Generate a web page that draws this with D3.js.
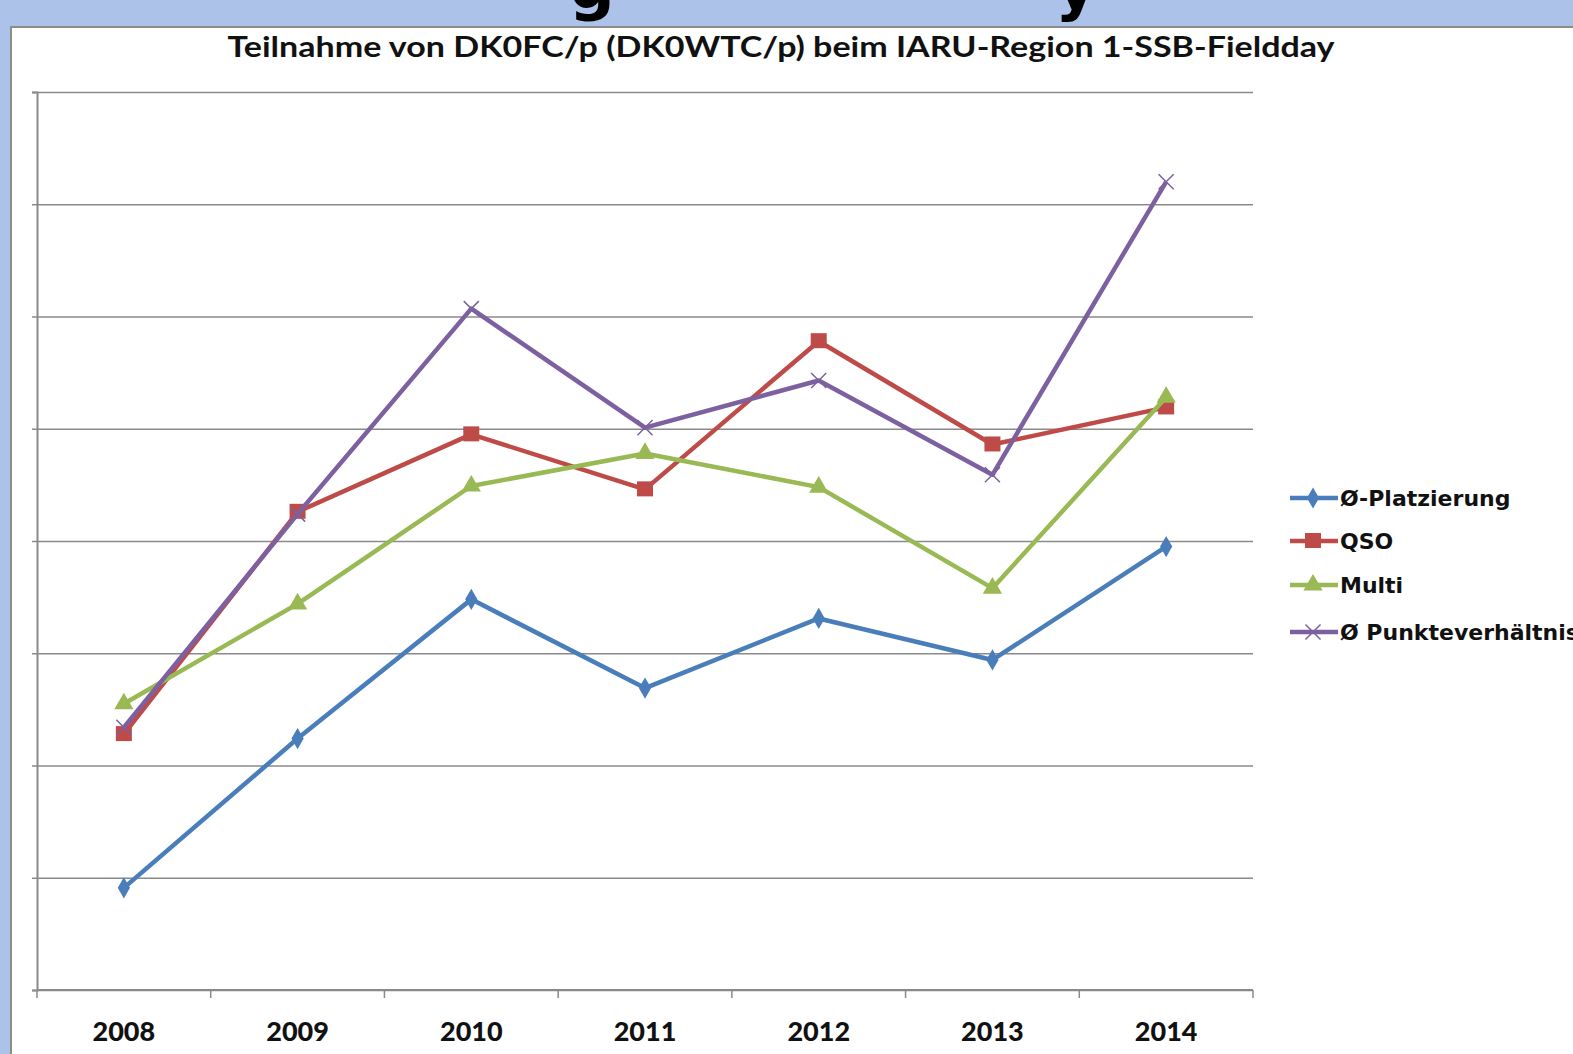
<!DOCTYPE html>
<meta charset="utf-8">
<script src="https://d3js.org/d3.v7.min.js"></script>
<style>
  body { margin: 0; background: #fff; }
</style>
<div id="chart"></div>
<script>
// data (units = grid steps, axis has no labels)
var years = ["2008", "2009", "2010", "2011", "2012", "2013", "2014"];
var platzierung = [0.91, 2.24, 3.48, 2.69, 3.31, 2.94, 3.95];
var qso = [2.28, 4.26, 4.95, 4.46, 5.78, 4.86, 5.19];
var multi = [2.55, 3.44, 4.49, 4.78, 4.48, 3.58, 5.28];
var punkte = [2.34, 4.24, 6.07, 5.01, 5.43, 4.59, 7.20];
var seriesNames = ["Ø-Platzierung", "QSO", "Multi", "Ø Punkteverhältnis"];
var gridTicks = [0, 1, 2, 3, 4, 5, 6, 7, 8];

(function() {
var W = 1573, H = 1054;
var series = [
  {name: seriesNames[0], values: platzierung, color: "#4a7ebb", shape: "diamond"},
  {name: seriesNames[1], values: qso, color: "#be4b48", shape: "square"},
  {name: seriesNames[2], values: multi, color: "#98b954", shape: "triangle"},
  {name: seriesNames[3], values: punkte, color: "#7d60a0", shape: "cross"}
];

var svg = d3.select("#chart").append("svg")
  .attr("width", W).attr("height", H);

// slide background (blue band top/left)
svg.append("rect").attr("width", W).attr("height", H).attr("fill", "#adc2e9");
svg.append("clipPath").attr("id", "band")
  .append("rect").attr("width", W).attr("height", 27);
var band = svg.append("g").attr("clip-path", "url(#band)");
band.append("text").attr("x", 592).attr("y", 8)
  .attr("text-anchor", "middle")
  .style("font", "bold 64px 'DejaVu Sans'").text("g");
band.append("text").attr("x", 1076).attr("y", 8)
  .attr("text-anchor", "middle")
  .style("font", "bold 64px 'DejaVu Sans'").text("y");

// white chart panel
svg.append("rect").attr("x", 11).attr("y", 27).attr("width", W).attr("height", H)
  .attr("fill", "#fff").attr("stroke", "#8c8c8c").attr("stroke-width", 2);

svg.append("text")
  .attr("x", 781).attr("y", 57)
  .attr("text-anchor", "middle")
  .attr("textLength", 1107).attr("lengthAdjust", "spacingAndGlyphs")
  .style("font", "bold 28px Lato")
  .attr("fill", "#111")
  .text("Teilnahme von DK0FC/p (DK0WTC/p) beim IARU-Region 1-SSB-Fieldday");

var pLeft = 37, pRight = 1253, pTop = 92, pBottom = 990;

var x = d3.scaleBand().domain(years).range([pLeft, pRight]);
var y = d3.scaleLinear().domain([0, 8]).range([pBottom, pTop]);

// gridlines
svg.append("g")
  .attr("transform", "translate(" + pLeft + ",0)")
  .call(d3.axisLeft(y).tickValues(gridTicks).tickSize(-(pRight - pLeft)).tickFormat(""))
  .call(function(g) {
    g.select(".domain").remove();
    g.selectAll("line").attr("stroke", "#8a8a8a").attr("stroke-width", 1.5);
  });
// small left ticks
svg.append("g")
  .attr("transform", "translate(" + pLeft + ",0)")
  .call(d3.axisLeft(y).tickValues(gridTicks).tickSize(5).tickFormat(""))
  .call(function(g) {
    g.select(".domain").attr("stroke", "#8a8a8a").attr("stroke-width", 2);
    g.selectAll("line").attr("stroke", "#8a8a8a").attr("stroke-width", 1.5);
  });

// x axis with ticks at category boundaries
var bounds = years.map(function(d) { return x(d); }).concat([pRight]);
svg.append("line").attr("x1", pLeft).attr("x2", pRight)
  .attr("y1", pBottom).attr("y2", pBottom)
  .attr("stroke", "#8a8a8a").attr("stroke-width", 2);
svg.selectAll(".xtick").data(bounds).enter().append("line")
  .attr("x1", function(d) { return d; }).attr("x2", function(d) { return d; })
  .attr("y1", pBottom).attr("y2", pBottom + 8)
  .attr("stroke", "#8a8a8a").attr("stroke-width", 1.5);
svg.append("g")
  .attr("transform", "translate(0," + pBottom + ")")
  .call(d3.axisBottom(x).tickSize(0).tickPadding(32))
  .call(function(g) {
    g.select(".domain").remove();
    g.selectAll("text").style("font", "900 27px Lato").attr("fill", "#111");
  });

var cx = function(i) { return x(years[i]) + x.bandwidth() / 2; };
var line = d3.line()
  .x(function(d, i) { return cx(i); })
  .y(function(d) { return y(d); });

function marker(g, shape, color, px, py) {
  if (shape === "diamond") {
    g.append("path").attr("d", d3.symbol(d3.symbolDiamond, 130)())
      .attr("transform", "translate(" + px + "," + py + ")").attr("fill", color);
  } else if (shape === "square") {
    g.append("rect").attr("x", px - 8).attr("y", py - 8).attr("width", 16).attr("height", 15)
      .attr("fill", color);
  } else if (shape === "triangle") {
    g.append("path").attr("d", d3.symbol(d3.symbolTriangle, 160)())
      .attr("transform", "translate(" + px + "," + py + ")").attr("fill", color);
  } else {
    g.append("path").attr("d", d3.symbol(d3.symbolTimes, 150)())
      .attr("transform", "translate(" + px + "," + py + ")")
      .attr("fill", "none").attr("stroke", color).attr("stroke-width", 1.5);
  }
}

series.forEach(function(s) {
  var g = svg.append("g");
  g.append("path").datum(s.values)
    .attr("d", line).attr("fill", "none")
    .attr("stroke", s.color).attr("stroke-width", 4.5)
    .attr("stroke-linejoin", "round");
  s.values.forEach(function(v, i) { marker(g, s.shape, s.color, cx(i), y(v)); });
});

// legend
var legY = [498, 541, 585, 632];
series.forEach(function(s, i) {
  var g = svg.append("g");
  g.append("line").attr("x1", 1290).attr("x2", 1338)
    .attr("y1", legY[i]).attr("y2", legY[i])
    .attr("stroke", s.color).attr("stroke-width", 4.5);
  marker(g, s.shape, s.color, 1313, legY[i]);
  g.append("text").attr("x", 1340).attr("y", legY[i] + 8)
    .style("font", "bold 22px 'DejaVu Sans'").attr("fill", "#111")
    .text(s.name);
});
})();
</script>
